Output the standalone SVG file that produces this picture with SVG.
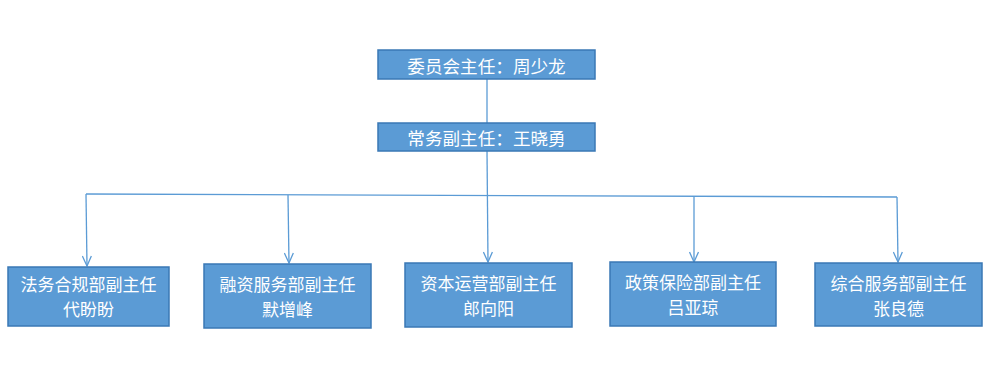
<svg xmlns="http://www.w3.org/2000/svg" width="996" height="386" viewBox="0 0 996 386">
<style>
.box{fill:#5B9BD5;stroke:#3A78B5;stroke-width:1.5}
.t{fill:#FFFFFF;font-family:"Noto Sans CJK SC","Noto Sans",sans-serif;font-size:17.6px;text-anchor:middle;dominant-baseline:central}
.s{font-size:17px}
.c{fill:none;stroke:#5B9BD5;stroke-width:1.3}
</style>
<defs>
<marker id="arr" viewBox="0 0 12 10" refX="11" refY="5" markerWidth="12" markerHeight="10" markerUnits="userSpaceOnUse" orient="auto">
<path d="M1,0.5 L11,5 L1,9.5" fill="none" stroke="#5B9BD5" stroke-width="1.3"/>
</marker>
</defs>
<rect width="996" height="386" fill="#FFFFFF"/>
<g id="connectors">
<line class="c" x1="487" y1="79" x2="487" y2="123"/>
<line class="c" x1="86" y1="194" x2="897" y2="197"/>
<line class="c" x1="487" y1="151" x2="488" y2="262" marker-end="url(#arr)"/>
<line class="c" x1="86" y1="194" x2="87" y2="266" marker-end="url(#arr)"/>
<line class="c" x1="288" y1="195" x2="289" y2="263" marker-end="url(#arr)"/>
<line class="c" x1="694" y1="196" x2="694" y2="262" marker-end="url(#arr)"/>
<line class="c" x1="897" y1="197" x2="898" y2="262" marker-end="url(#arr)"/>
</g>
<g id="n0">
<rect class="box" x="378" y="50" width="217" height="29"/>
<text class="t" x="486.5" y="65">委员会主任：周少龙</text>
</g>
<g id="n1">
<rect class="box" x="378" y="123" width="217" height="28"/>
<text class="t" x="486.5" y="137">常务副主任：王晓勇</text>
</g>
<g id="n2">
<rect class="box" x="8" y="267" width="161" height="59"/>
<text class="t s"><tspan x="88.5" y="283">法务合规部副主任</tspan><tspan x="88.5" y="308">代盼盼</tspan></text>
</g>
<g id="n3">
<rect class="box" x="204" y="264" width="167" height="64"/>
<text class="t s"><tspan x="287.5" y="283">融资服务部副主任</tspan><tspan x="287.5" y="308">默增峰</tspan></text>
</g>
<g id="n4">
<rect class="box" x="405" y="263" width="167" height="64"/>
<text class="t s"><tspan x="488.5" y="282">资本运营部副主任</tspan><tspan x="488.5" y="307">郎向阳</tspan></text>
</g>
<g id="n5">
<rect class="box" x="610" y="262" width="166" height="64"/>
<text class="t s"><tspan x="693" y="281">政策保险部副主任</tspan><tspan x="693" y="306">吕亚琼</tspan></text>
</g>
<g id="n6">
<rect class="box" x="815" y="263" width="167" height="63"/>
<text class="t s"><tspan x="898.5" y="282">综合服务部副主任</tspan><tspan x="898.5" y="307">张良德</tspan></text>
</g>
</svg>
